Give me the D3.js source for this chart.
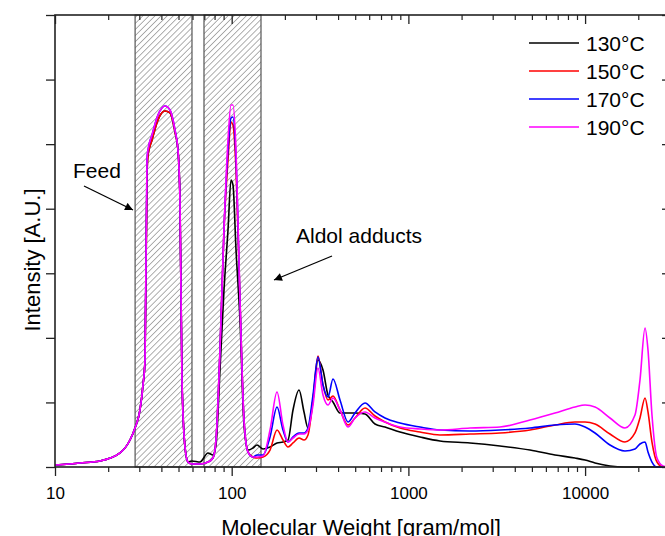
<!DOCTYPE html>
<html>
<head>
<meta charset="utf-8">
<script src="https://cdn.jsdelivr.net/npm/d3@7"></script>
<style>
  body { margin: 0; background: #fff; }
  svg { display: block; font-family: "Liberation Sans", Arial, sans-serif; }
</style>
</head>
<body>
<div id="chart"></div>
<script>
// molecular weight grid [gram/mol]
const mw = [10, 13.85, 17.98, 23.33, 26.57, 28.37, 30.27, 31.48, 32.32, 33.17, 33.6, 35.4, 38.27, 41.93, 44.74,
  47.76, 49.66, 50.97, 52.32, 54.41, 56.58, 59.62, 66.16, 73.41, 78.38, 81.5, 85.86, 90.44, 95.3, 99.09, 101.7,
  105.8, 111.4, 117.4, 123.7, 132, 139.1, 150.4, 164.8, 180.5, 195.1, 208.3, 222.3, 240.4, 256.6, 270.3, 288.5,
  307.8, 328.6, 350.8, 374.4, 410.2, 455.2, 498.7, 568.2, 647.1, 737.2, 896.5, 1163, 1509, 2232, 3299, 4878,
  6755, 8767, 10000, 11380, 13830, 16820, 19160, 20450, 21840, 22700, 23910, 25520, 27600, 29080];

const t130 = [0.031, 0.062, 0.093, 0.217, 0.418, 0.604, 0.883, 1.27, 1.657, 4.522, 4.832, 5.064, 5.374, 5.513, 5.483,
  5.188, 4.909, 4.135, 1.347, 0.31, 0.077, 0.093, 0.077, 0.217, 0.186, 0.341, 1.502, 2.741, 3.67, 4.445, 4.367,
  3.361, 2.277, 0.65, 0.263, 0.294, 0.341, 0.279, 0.31, 0.372, 0.387, 0.418, 0.883, 1.192, 0.852, 0.604, 1.038,
  1.657, 1.502, 1.115, 1.007, 0.836, 0.836, 0.836, 0.821, 0.666, 0.619, 0.542, 0.465, 0.403, 0.372, 0.325, 0.263,
  0.186, 0.139, 0.108, 0.062, 0.015, 0, 0, 0, 0, 0, 0, 0, 0, 0];

const t150 = [0.031, 0.062, 0.093, 0.217, 0.418, 0.604, 0.883, 1.27, 1.657, 4.522, 4.832, 5.064, 5.374, 5.513, 5.483,
  5.188, 4.909, 4.135, 1.347, 0.31, 0.077, 0.046, 0.046, 0.077, 0.139, 0.418, 1.812, 3.67, 4.755, 5.343, 5.297,
  4.6, 2.586, 0.728, 0.232, 0.155, 0.139, 0.155, 0.263, 0.573, 0.418, 0.31, 0.372, 0.449, 0.418, 0.496, 1.038,
  1.719, 1.27, 1.038, 1.1, 0.883, 0.65, 0.759, 0.914, 0.79, 0.697, 0.604, 0.542, 0.496, 0.511, 0.527, 0.573,
  0.65, 0.697, 0.697, 0.666, 0.511, 0.387, 0.527, 0.759, 1.069, 0.852, 0.387, 0.077, 0, 0];

const t170 = [0.031, 0.062, 0.093, 0.217, 0.418, 0.604, 0.883, 1.27, 1.657, 4.755, 4.909, 5.142, 5.451, 5.591, 5.529,
  5.219, 4.909, 4.135, 1.347, 0.31, 0.077, 0.046, 0.046, 0.077, 0.139, 0.418, 1.812, 3.67, 4.909, 5.405, 5.421,
  4.755, 2.586, 0.728, 0.232, 0.155, 0.186, 0.186, 0.465, 0.929, 0.573, 0.387, 0.465, 0.527, 0.527, 0.604, 1.115,
  1.704, 1.27, 1.084, 1.363, 1.038, 0.697, 0.836, 0.991, 0.852, 0.759, 0.681, 0.619, 0.573, 0.558, 0.573, 0.604,
  0.65, 0.666, 0.619, 0.527, 0.341, 0.248, 0.279, 0.356, 0.387, 0.232, 0.077, 0, 0, 0];

const t190 = [0.031, 0.062, 0.093, 0.217, 0.418, 0.604, 0.883, 1.27, 1.657, 4.755, 4.909, 5.142, 5.451, 5.591, 5.529,
  5.219, 4.909, 4.135, 1.347, 0.31, 0.077, 0.046, 0.046, 0.077, 0.139, 0.418, 1.812, 3.67, 5.064, 5.606, 5.606,
  4.909, 2.586, 0.728, 0.232, 0.155, 0.155, 0.17, 0.573, 1.162, 0.65, 0.387, 0.449, 0.511, 0.511, 0.573, 0.96,
  1.533, 1.115, 0.96, 1.069, 0.883, 0.619, 0.759, 0.852, 0.759, 0.697, 0.619, 0.589, 0.573, 0.604, 0.619, 0.728,
  0.836, 0.929, 0.96, 0.929, 0.759, 0.604, 0.805, 1.347, 2.153, 1.812, 0.805, 0.139, 0.015, 0];

const seriesNames = ["130°C", "150°C", "170°C", "190°C"];
const seriesColors = ["#000000", "#ff0000", "#0000ff", "#ff00ff"];
const seriesValues = [t130, t150, t170, t190];

// shaded regions (feed, aldol adducts)
const bandStart = [28.4, 69.7];
const bandEnd = [59.6, 146.5];

const xMajor = [10, 100, 1000, 10000];
const yTicks = [0, 1, 2, 3, 4, 5, 6, 7];

const W = 665, H = 536;
const margin = {top: 15, left: 55, bottom: 69};
const plotRight = 667;

const svg = d3.select("#chart").append("svg")
  .attr("width", W).attr("height", H);

const x = d3.scaleLog().domain([10, 29080]).range([margin.left, plotRight]);
const y = d3.scaleLinear().domain([0, 7]).range([H - margin.bottom, margin.top]);

// hatch pattern
const defs = svg.append("defs");
const pat = defs.append("pattern")
  .attr("id", "hatch")
  .attr("patternUnits", "userSpaceOnUse")
  .attr("width", 4.3).attr("height", 4.3)
  .attr("patternTransform", "rotate(45)");
pat.append("line")
  .attr("x1", 0).attr("y1", 0).attr("x2", 0).attr("y2", 4.3)
  .attr("stroke", "#3a3a3a").attr("stroke-width", 0.8);

defs.append("marker")
  .attr("id", "arrow")
  .attr("viewBox", "0 0 10 10")
  .attr("refX", 10).attr("refY", 5)
  .attr("markerWidth", 10).attr("markerHeight", 8)
  .attr("markerUnits", "userSpaceOnUse")
  .attr("orient", "auto")
  .append("path").attr("d", "M0,0L10,5L0,10z").attr("fill", "#000");

svg.selectAll(".band")
  .data(bandStart)
  .enter().append("rect")
  .attr("x", (d, i) => x(d))
  .attr("y", y(7))
  .attr("width", (d, i) => x(bandEnd[i]) - x(d))
  .attr("height", y(0) - y(7))
  .attr("fill", "url(#hatch)")
  .attr("stroke", "#555")
  .attr("stroke-width", 1.2);

// curves
const line = d3.line()
  .x((d, i) => x(mw[i]))
  .y(d => y(d))
  .curve(d3.curveMonotoneX);

svg.selectAll(".series")
  .data(seriesValues)
  .enter().append("path")
  .attr("d", d => line(d))
  .attr("fill", "none")
  .attr("stroke", (d, i) => seriesColors[i])
  .attr("stroke-width", 1.6);

// axes
const minorTicks = x.ticks(40).filter(v => xMajor.indexOf(v) < 0);
const axisColor = "#222";

svg.append("g")
  .attr("transform", "translate(0," + y(0) + ")")
  .call(d3.axisBottom(x).tickValues(xMajor).tickSize(9).tickFormat(d3.format("d")))
  .call(g => g.select(".domain").remove())
  .call(g => g.selectAll("line").attr("stroke", axisColor).attr("stroke-width", 1.3))
  .call(g => g.selectAll("text").attr("font-size", 17).attr("dy", "1.15em").attr("fill", "#000"));

svg.append("g")
  .attr("transform", "translate(0," + y(0) + ")")
  .call(d3.axisBottom(x).tickValues(minorTicks).tickSize(5).tickFormat(""))
  .call(g => g.select(".domain").remove())
  .call(g => g.selectAll("line").attr("stroke", axisColor).attr("stroke-width", 1.2));

svg.append("g")
  .attr("transform", "translate(0," + y(7) + ")")
  .call(d3.axisBottom(x).tickValues(xMajor).tickSize(9).tickFormat(""))
  .call(g => g.select(".domain").remove())
  .call(g => g.selectAll("line").attr("stroke", axisColor).attr("stroke-width", 1.3));

svg.append("g")
  .attr("transform", "translate(0," + y(7) + ")")
  .call(d3.axisBottom(x).tickValues(minorTicks).tickSize(5).tickFormat(""))
  .call(g => g.select(".domain").remove())
  .call(g => g.selectAll("line").attr("stroke", axisColor).attr("stroke-width", 1.2));

svg.append("g")
  .attr("transform", "translate(" + margin.left + ",0)")
  .call(d3.axisLeft(y).tickValues(yTicks).tickSize(9).tickFormat(""))
  .call(g => g.select(".domain").remove())
  .call(g => g.selectAll("line").attr("stroke", axisColor).attr("stroke-width", 1.3));

svg.append("g")
  .attr("transform", "translate(" + plotRight + ",0)")
  .call(d3.axisLeft(y).tickValues(yTicks).tickSize(5).tickFormat(""))
  .call(g => g.select(".domain").remove())
  .call(g => g.selectAll("line").attr("stroke", axisColor).attr("stroke-width", 1.3));

// frame
svg.append("rect")
  .attr("x", margin.left).attr("y", y(7))
  .attr("width", plotRight - margin.left).attr("height", y(0) - y(7))
  .attr("fill", "none").attr("stroke", axisColor).attr("stroke-width", 1.6);

// titles
svg.append("text")
  .attr("x", 361).attr("y", 535)
  .attr("text-anchor", "middle").attr("font-size", 22)
  .text("Molecular Weight [gram/mol]");

svg.append("text")
  .attr("transform", "translate(40,260) rotate(-90)")
  .attr("text-anchor", "middle").attr("font-size", 22)
  .text("Intensity [A.U.]");

// annotations
svg.append("text").attr("x", 73).attr("y", 178).attr("font-size", 21).text("Feed");
svg.append("line")
  .attr("x1", 84).attr("y1", 186).attr("x2", 133).attr("y2", 210)
  .attr("stroke", "#000").attr("stroke-width", 1.3).attr("marker-end", "url(#arrow)");

svg.append("text").attr("x", 296).attr("y", 243).attr("font-size", 21).text("Aldol adducts");
svg.append("line")
  .attr("x1", 332).attr("y1", 256).attr("x2", 274).attr("y2", 280)
  .attr("stroke", "#000").attr("stroke-width", 1.3).attr("marker-end", "url(#arrow)");

// legend
const legend = svg.append("g").selectAll("g")
  .data(seriesNames)
  .enter().append("g")
  .attr("transform", (d, i) => "translate(529," + (43 + i * 28) + ")");
legend.append("line")
  .attr("x1", 0).attr("x2", 50)
  .attr("stroke", (d, i) => seriesColors[i]).attr("stroke-width", 1.5);
legend.append("text")
  .attr("x", 57).attr("y", 8)
  .attr("font-size", 21)
  .text(d => d);
</script>
</body>
</html>
